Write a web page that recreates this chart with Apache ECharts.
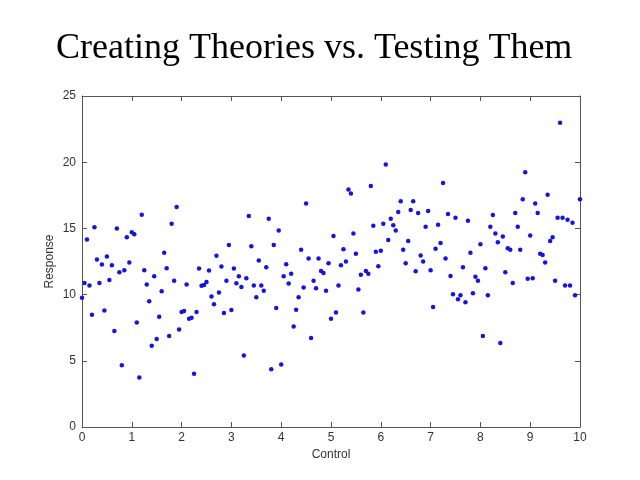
<!DOCTYPE html>
<html>
<head>
<meta charset="utf-8">
<script src="https://cdn.jsdelivr.net/npm/echarts@6/dist/echarts.min.js"></script>
<style>html,body{margin:0;padding:0;background:#fff}#c{width:640px;height:480px}</style>
</head>
<body>
<div id="c"></div>
<script>
var titleText = "Creating Theories vs. Testing Them";
var xLabel = "Control";
var yLabel = "Response";

var xValues = [
0,0.05,0.1,0.15,0.2,0.25,0.3,0.35,0.4,0.45,0.5,0.55,0.6,0.65,0.7,0.75,0.8,0.85,0.9,0.95,
1,1.05,1.1,1.15,1.2,1.25,1.3,1.35,1.4,1.45,1.5,1.55,1.6,1.65,1.7,1.75,1.8,1.85,1.9,1.95,
2,2.05,2.1,2.15,2.2,2.25,2.3,2.35,2.4,2.45,2.5,2.55,2.6,2.65,2.7,2.75,2.8,2.85,2.9,2.95,
3,3.05,3.1,3.15,3.2,3.25,3.3,3.35,3.4,3.45,3.5,3.55,3.6,3.65,3.7,3.75,3.8,3.85,3.9,3.95,
4,4.05,4.1,4.15,4.2,4.25,4.3,4.35,4.4,4.45,4.5,4.55,4.6,4.65,4.7,4.75,4.8,4.85,4.9,4.95,
5,5.05,5.1,5.15,5.2,5.25,5.3,5.35,5.4,5.45,5.5,5.55,5.6,5.65,5.7,5.75,5.8,5.85,5.9,5.95,
6,6.05,6.1,6.15,6.2,6.25,6.3,6.35,6.4,6.45,6.5,6.55,6.6,6.65,6.7,6.75,6.8,6.85,6.9,6.95,
7,7.05,7.1,7.15,7.2,7.25,7.3,7.35,7.4,7.45,7.5,7.55,7.6,7.65,7.7,7.75,7.8,7.85,7.9,7.95,
8,8.05,8.1,8.15,8.2,8.25,8.3,8.35,8.4,8.45,8.5,8.55,8.6,8.65,8.7,8.75,8.8,8.85,8.9,8.95,
9,9.05,9.1,9.15,9.2,9.25,9.3,9.35,9.4,9.45,9.5,9.55,9.6,9.65,9.7,9.75,9.8,9.85,9.9,10
];

var yValues = [
9.77,10.88,14.17,10.68,8.48,15.08,12.65,10.88,12.27,8.79,12.88,11.11,12.22,7.25,15.0,11.69,4.67,11.84,14.34,12.42,
14.70,14.55,7.90,3.74,16.04,11.84,10.76,9.49,6.14,11.39,6.64,8.33,10.25,13.16,11.99,6.87,15.35,11.04,16.62,7.37,
8.69,8.76,10.76,8.18,8.26,4.02,8.69,11.97,10.66,10.73,10.96,11.82,9.85,9.27,12.93,10.15,12.12,8.61,11.04,13.74,
8.84,11.97,10.86,11.39,10.58,5.40,11.24,15.93,13.66,10.68,9.80,12.58,10.68,10.30,12.07,15.73,4.37,13.74,8.99,14.85,
4.72,11.39,12.30,10.83,11.57,7.60,8.86,9.80,13.38,10.53,16.89,12.73,6.72,11.04,10.48,12.73,11.79,11.64,10.30,12.37,
8.18,14.42,8.64,10.68,12.22,13.43,12.50,17.93,17.63,14.62,13.08,10.38,11.49,8.64,11.79,11.57,18.21,15.20,13.23,12.15,
13.31,15.35,19.82,14.12,15.73,15.23,14.85,16.24,17.05,13.38,12.37,14.04,16.39,17.05,11.77,16.16,12.95,12.50,15.13,16.31,
11.84,9.07,13.46,15.28,13.89,18.43,12.73,16.09,11.41,10.03,15.81,9.65,9.95,12.07,9.42,15.58,13.16,10.10,11.34,11.04,
13.81,6.87,11.99,9.95,15.13,16.01,14.62,13.96,6.34,14.39,11.69,13.51,13.38,10.88,16.16,15.13,13.38,17.20,19.24,11.19,
14.47,11.24,16.89,16.16,13.08,13.00,12.42,17.55,14.04,14.34,11.04,15.81,22.98,15.81,10.68,15.66,10.68,15.43,9.95,17.20
];

var xTicks = ["0","1","2","3","4","5","6","7","8","9","10"];
var yTicks = ["0","5","10","15","20","25"];

var points = xValues.map(function(x, i){ return [x, yValues[i]]; });

var axisColor = "#555555";
var labelStyle = {color:"#333333", fontFamily:"Liberation Sans, Arial, sans-serif", fontSize:12};

var chart = echarts.init(document.getElementById('c'), null, {renderer:'canvas'});
chart.setOption({
  backgroundColor:"#ffffff",
  animation:false,
  title:{
    text:titleText, left:51, top:26,
    textStyle:{fontFamily:"Liberation Serif, Times New Roman, serif", fontSize:36, fontWeight:'normal', color:"#000000"}
  },
  grid:{left:82, right:60, top:96, bottom:53, containLabel:false},
  xAxis:[{
    type:'value', min:0, max:10, interval:1, position:'bottom',
    name:xLabel, nameLocation:'middle', nameGap:22, nameMoveOverlap:false,
    nameTextStyle:labelStyle,
    axisLine:{show:true, onZero:false, lineStyle:{color:axisColor, width:1}},
    axisTick:{show:true, inside:true, length:5, lineStyle:{color:axisColor}},
    axisLabel:Object.assign({margin:5, formatter:function(v){return xTicks[Math.round(v)];}}, labelStyle),
    splitLine:{show:false}
  },{
    type:'value', min:0, max:10, interval:1, position:'top',
    axisLine:{show:true, onZero:false, lineStyle:{color:axisColor, width:1}},
    axisTick:{show:true, inside:true, length:5, lineStyle:{color:axisColor}},
    axisLabel:{show:false}, splitLine:{show:false}
  }],
  yAxis:[{
    type:'value', min:0, max:25, interval:5, position:'left',
    name:yLabel, nameLocation:'middle', nameGap:26, nameRotate:90, nameMoveOverlap:false,
    nameTextStyle:labelStyle,
    axisLine:{show:true, onZero:false, lineStyle:{color:axisColor, width:1}},
    axisTick:{show:true, inside:true, length:5, lineStyle:{color:axisColor}},
    axisLabel:Object.assign({margin:6, formatter:function(v){return yTicks[Math.round(v/5)];}}, labelStyle),
    splitLine:{show:false}
  },{
    type:'value', min:0, max:25, interval:5, position:'right',
    axisLine:{show:true, onZero:false, lineStyle:{color:axisColor, width:1}},
    axisTick:{show:true, inside:true, length:5, lineStyle:{color:axisColor}},
    axisLabel:{show:false}, splitLine:{show:false}
  }],
  series:[{
    type:'scatter', xAxisIndex:0, yAxisIndex:0,
    data:points, symbol:'circle', symbolSize:4.5,
    itemStyle:{color:"#1515dd", opacity:1},
    clip:false
  }]
});
</script>
</body>
</html>
